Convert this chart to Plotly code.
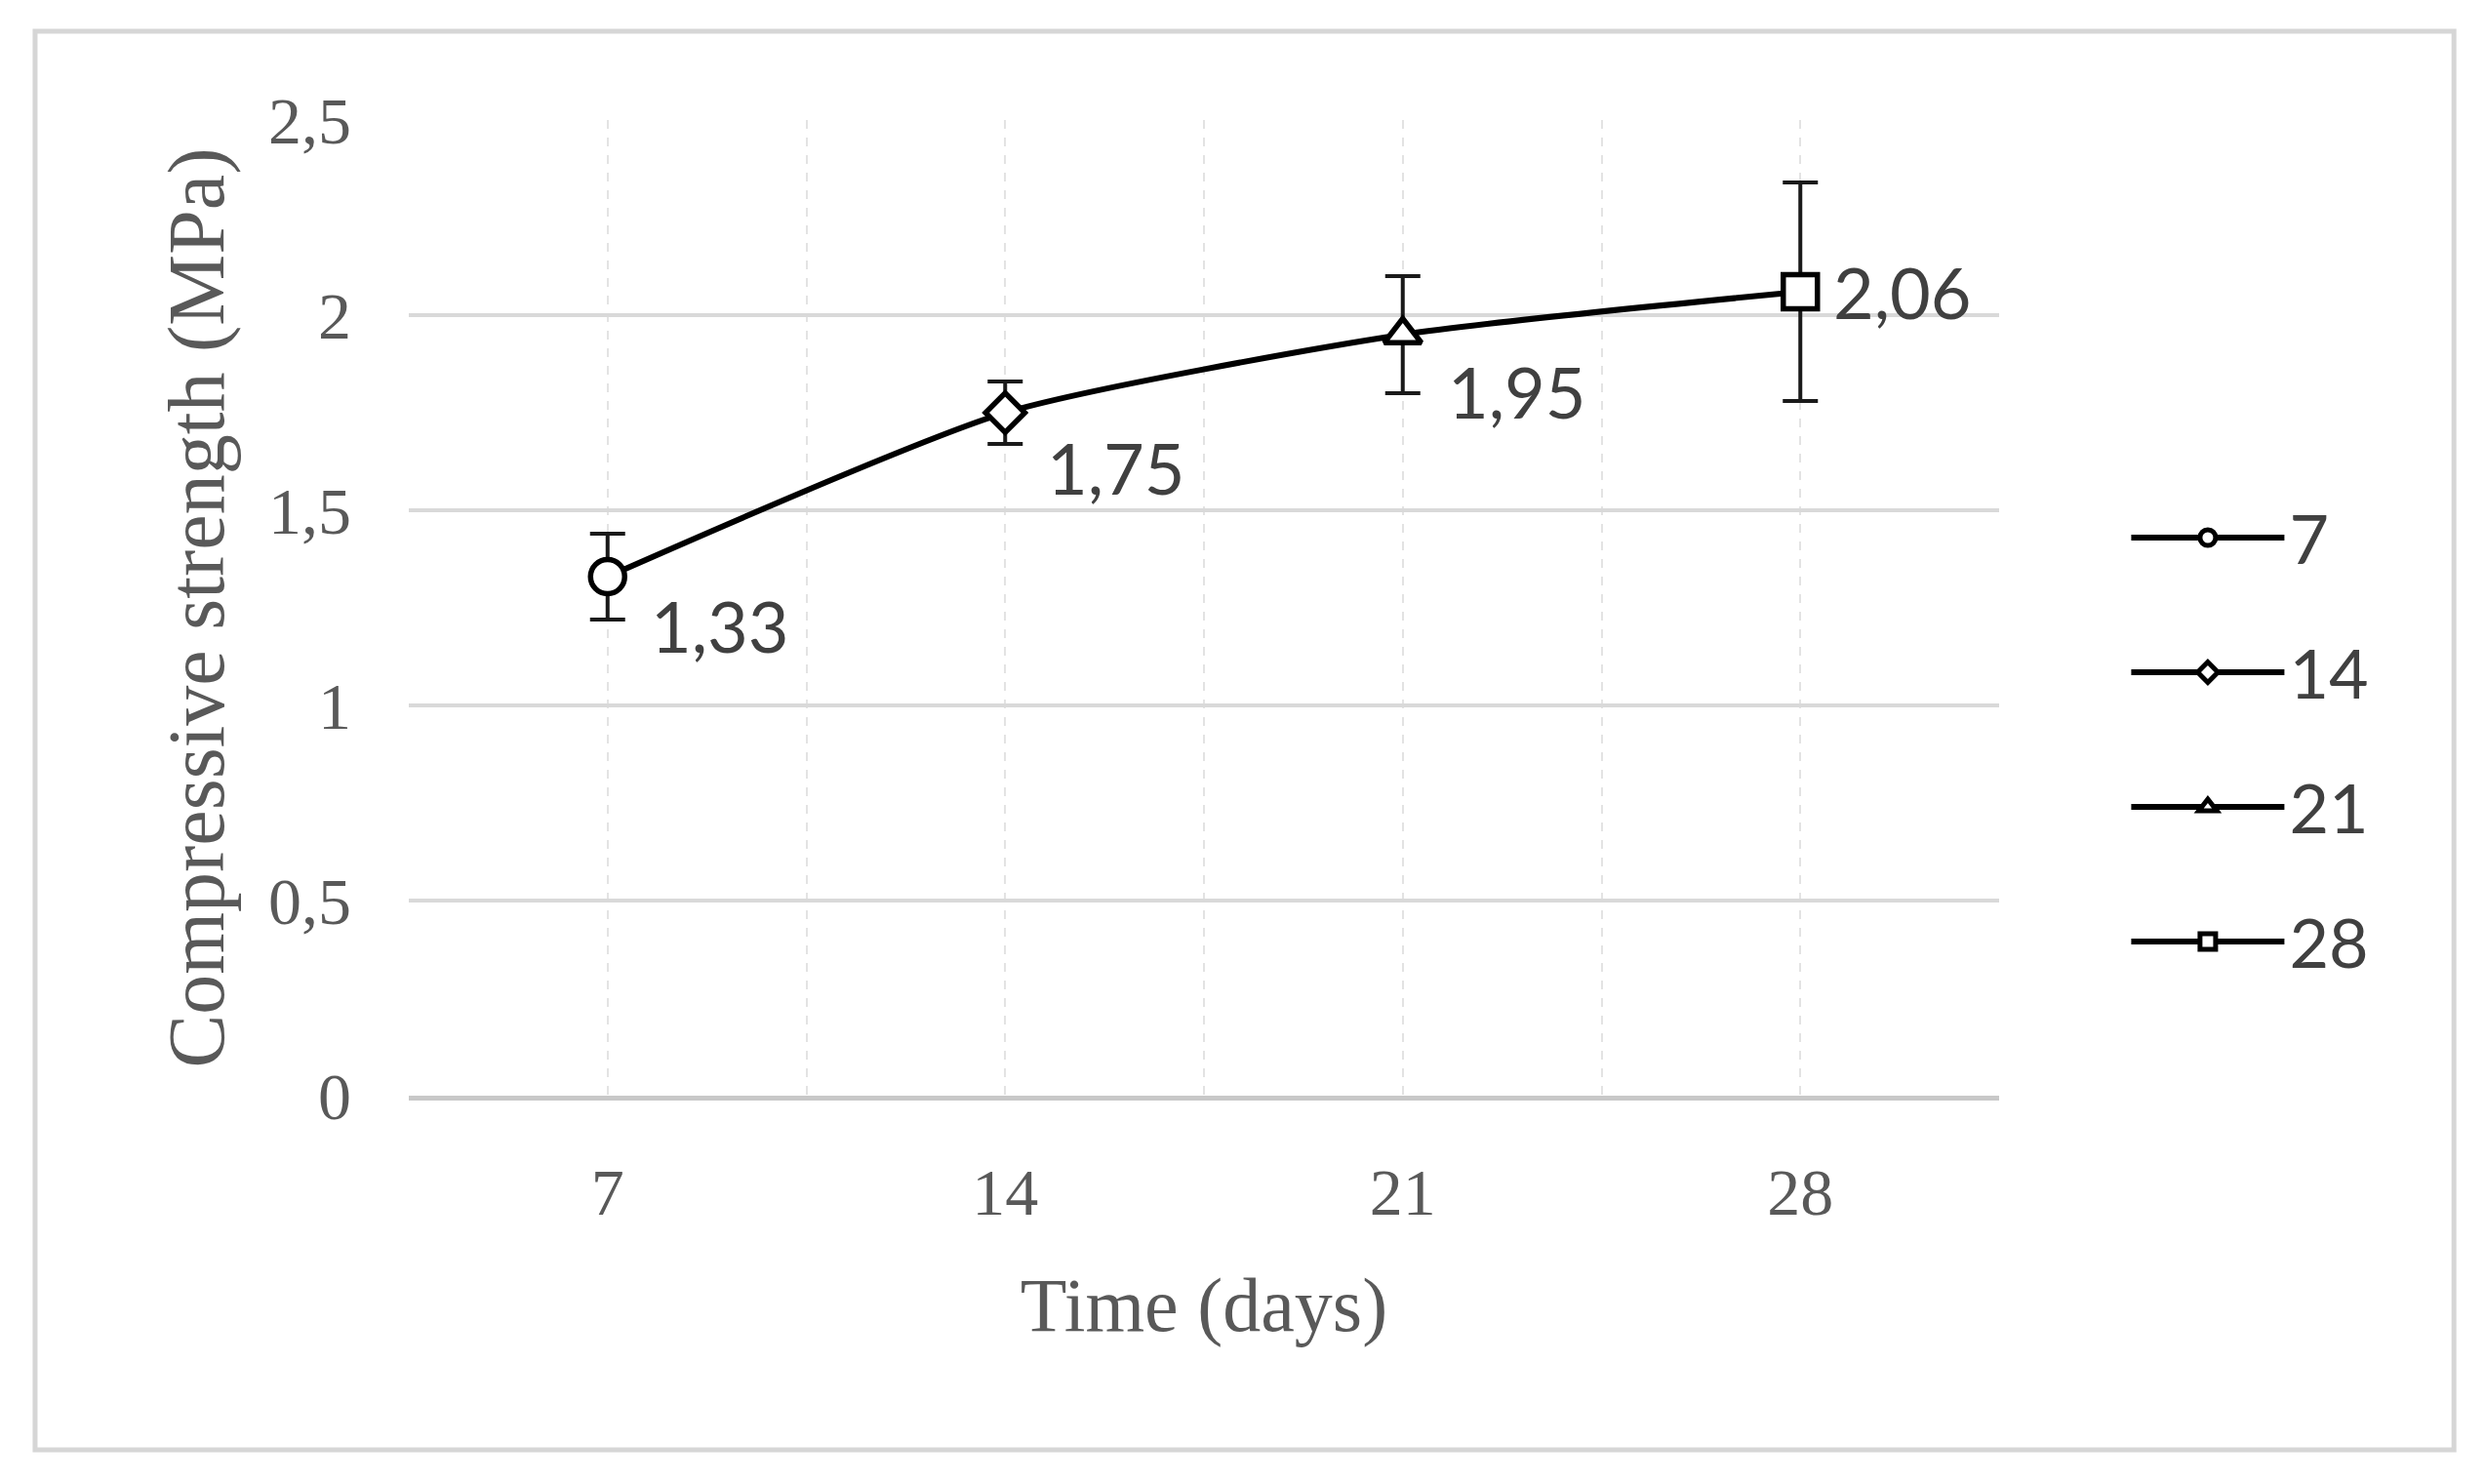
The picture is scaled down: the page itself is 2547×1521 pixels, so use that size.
import plotly.graph_objects as go

# ---- data ----
days = [7, 14, 21, 28]
strength = [1.33, 1.75, 1.95, 2.06]
err = [0.11, 0.08, 0.15, 0.28]
series_names = ["7", "14", "21", "28"]
y_ticks = [0, 0.5, 1, 1.5, 2, 2.5]

# ---- style ----
symbols = ["circle", "diamond", "triangle-up", "square"]
marker_sizes = [35, 31, 33, 35]
label_yshift = [-50, -56, -58, 0]
label_xshift = [42, 41, 44, 32]

SERIF = "Liberation Serif"
SANS = "Lato"
GRAY = "#595959"

fig = go.Figure()

# smoothed connecting line
fig.add_trace(go.Scatter(
    x=days, y=strength, mode="lines", showlegend=False, hoverinfo="skip",
    line=dict(color="black", width=6, shape="spline", smoothing=0.6),
))

annotations = []
for i, (d, v, e, name, sym) in enumerate(zip(days, strength, err, series_names, symbols)):
    fig.add_trace(go.Scatter(
        x=[d], y=[v], name=name, legendgroup=name,
        mode="lines+markers",
        line=dict(color="black", width=6),
        marker=dict(symbol=sym, size=marker_sizes[i],
                    color="white", line=dict(color="black", width=5.5)),
        error_y=dict(type="data", array=[e], visible=True, color="#1a1a1a",
                     thickness=4, width=18),
    ))
    annotations.append(dict(
        x=d, y=v, xref="x", yref="y", showarrow=False,
        text=f"{v:.2f}".replace(".", ","),
        xanchor="left", yanchor="middle",
        xshift=label_xshift[i], yshift=label_yshift[i],
        font=dict(family=SANS, size=72, color="#404040"),
    ))

fig.update_layout(
    width=2547, height=1521,
    margin=dict(l=419, r=498, t=123, b=398),
    paper_bgcolor="white", plot_bgcolor="white",
    separators=", ",
    showlegend=True,
    annotations=annotations,
    legend=dict(
        x=1.08, y=0.365, xanchor="left", yanchor="middle",
        font=dict(family=SANS, size=70, color="#404040"),
        tracegroupgap=44, traceorder="grouped",
        bgcolor="rgba(0,0,0,0)", itemwidth=157,
    ),
    xaxis=dict(
        range=[3.5, 31.5], tickvals=days, ticktext=[str(d) for d in days],
        showgrid=True, gridcolor="#e3e3e3", gridwidth=2, griddash="dash",
        minor=dict(tick0=3.5, dtick=7, showgrid=True, gridcolor="#e3e3e3",
                   gridwidth=2, griddash="dash"),
        showline=True, linecolor="#c8c8c8", linewidth=5,
        ticks="", zeroline=False,
        tickfont=dict(family=SERIF, size=68, color=GRAY),
        ticklabelstandoff=35,
        title=dict(text="Time (days)", font=dict(family=SERIF, size=78, color=GRAY),
                   standoff=52),
    ),
    yaxis=dict(
        range=[0, 2.5], tickvals=y_ticks,
        showgrid=True, gridcolor="#d9d9d9", gridwidth=4,
        zeroline=False, ticks="",
        tickfont=dict(family=SERIF, size=68, color=GRAY),
        ticklabelstandoff=58,
        title=dict(text="Compressive strength (MPa)",
                   font=dict(family=SERIF, size=82, color=GRAY), standoff=18),
    ),
    shapes=[dict(
        type="rect", xref="paper", yref="paper",
        x0=-0.235, x1=1.286, y0=-0.363, y1=1.091,
        line=dict(color="#d6d6d6", width=5), fillcolor="rgba(0,0,0,0)",
        layer="below",
    )],
)

fig.write_html("out.html")
